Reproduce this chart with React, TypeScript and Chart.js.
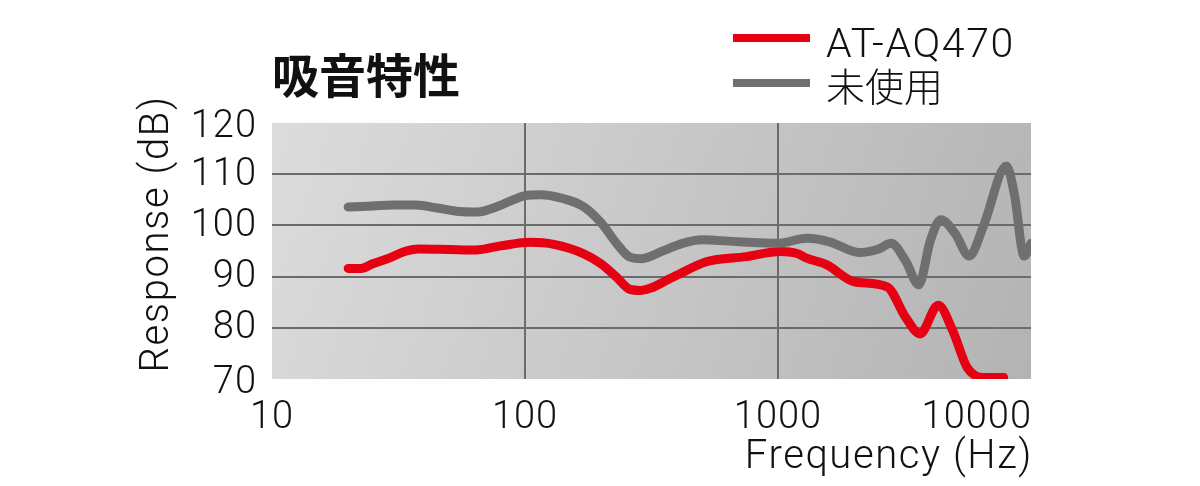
import React, { useRef, useEffect } from 'react';
import Chart from 'chart.js/auto';

// frequency (Hz) / response (dB)
const grayFreq = [20, 25, 30, 37, 45, 55, 65, 76, 90, 100, 115, 140, 170, 200, 230, 260, 290, 350, 420, 500, 700, 1000, 1300, 1600, 2100, 2500, 2800, 3200, 3600, 4000, 4400, 5000, 5700, 6500, 8000, 8600, 9400, 10000];
const grayDb = [103.6, 103.8, 104, 104, 103.4, 102.7, 102.6, 103.5, 105, 105.8, 106, 105.3, 103.7, 100.5, 96.5, 93.8, 93.5, 95, 96.5, 97.2, 96.8, 96.5, 97.5, 96.8, 94.7, 95.4, 96.5, 93, 88.4, 97, 101.1, 98.5, 94, 100, 111.6, 106, 94, 96.5];

const redFreq = [20, 22.5, 25, 29, 33, 38, 50, 64, 80, 105, 130, 170, 200, 230, 260, 285, 385, 520, 750, 1020, 1190, 1300, 1560, 2000, 2700, 3200, 3640, 4300, 4900, 5600, 6500, 7800];
const redDb = [91.6, 91.6, 92.5, 93.6, 94.8, 95.4, 95.3, 95.2, 96, 96.7, 96.3, 94.5, 92.5, 89.9, 87.5, 87.3, 89.9, 92.9, 93.9, 94.9, 94.5, 93.6, 92.3, 89, 88, 82, 78.8, 84.4, 79.5, 72.2, 70.3, 70.3];

const xTicks = [10, 100, 1000, 10000];
const yTicks = [70, 80, 90, 100, 110, 120];

const seriesNames = ['AT-AQ470', '未使用'];
const seriesColors = ['#e60012', '#6f6f6f'];

const LATIN = '"Roboto", "Noto Sans", sans-serif';
const CJK = '"Noto Sans CJK JP", sans-serif';

const textPlugin = {
    id: 'texts',
    beforeDraw(chart: any) {
        const { ctx, chartArea: a } = chart;
        const g = ctx.createLinearGradient(a.left, a.top, a.right, a.bottom);
        g.addColorStop(0, '#dcdcdc');
        g.addColorStop(1, '#b3b3b3');
        ctx.save();
        ctx.fillStyle = g;
        ctx.fillRect(a.left, a.top, a.right - a.left, a.bottom - a.top);
        ctx.restore();
    },
    afterDraw(chart: any) {
        const { ctx, chartArea: a } = chart;
        const xs = chart.scales.x;
        const ys = chart.scales.y;
        ctx.save();
        ctx.fillStyle = '#111';

        // title
        ctx.font = `bold 47px ${CJK}`;
        ctx.textAlign = 'left';
        ctx.textBaseline = 'middle';
        ctx.fillText('吸音特性', 272, 75);

        // legend
        seriesNames.forEach((name, i) => {
            const y = i === 0 ? 38 : 83;
            ctx.fillStyle = seriesColors[i];
            ctx.fillRect(733, y - 4, 77, 8);
            ctx.fillStyle = '#111';
            ctx.textAlign = 'left';
            if (i === 0) {
                ctx.font = `300 41px ${LATIN}`;
                ctx.letterSpacing = '1.6px';
                ctx.textBaseline = 'alphabetic';
                ctx.fillText(name, 826, 57);
                ctx.letterSpacing = '0px';
            } else {
                ctx.font = `300 39px ${CJK}`;
                ctx.textBaseline = 'middle';
                ctx.fillText(name, 826, 86);
            }
        });

        // y ticks
        ctx.font = `300 38px ${LATIN}`;
        ctx.letterSpacing = '1px';
        ctx.textAlign = 'right';
        ctx.textBaseline = 'middle';
        yTicks.forEach((v, i) => {
            let y = ys.getPixelForValue(v);
            if (i === 0 || i === yTicks.length - 1) y += 3;
            ctx.fillText(String(v), a.left - 15, y + 1);
        });

        // x ticks
        ctx.textBaseline = 'alphabetic';
        xTicks.forEach((v, i) => {
            const x = xs.getPixelForValue(v);
            const last = i === xTicks.length - 1;
            ctx.textAlign = last ? 'right' : 'center';
            ctx.fillText(String(v), last ? x + 1 : x, 428);
        });

        // axis titles
        ctx.font = `300 40px ${LATIN}`;
        ctx.letterSpacing = '1.6px';
        ctx.textAlign = 'right';
        ctx.fillText('Frequency (Hz)', a.right + 2, 468);

        ctx.translate(168, 234);
        ctx.rotate(-Math.PI / 2);
        ctx.textAlign = 'center';
        ctx.fillText('Response (dB)', 0, 0);
        ctx.restore();
    },
};

const App: React.FC = () => {
    const canvasRef = useRef<HTMLCanvasElement>(null);
    const chartRef = useRef<Chart | null>(null);

    useEffect(() => {
        document.body.style.margin = '0';
        if (chartRef.current) chartRef.current.destroy();
        if (!canvasRef.current) return;

        const gridColor = (edge: number[]) => (c: any) =>
            edge.includes(c.tick?.value) ? 'rgba(0,0,0,0)' : '#6b6b6b';

        chartRef.current = new Chart(canvasRef.current, {
            type: 'line',
            data: {
                datasets: [
                    {
                        label: seriesNames[1],
                        data: grayFreq.map((f, i) => ({ x: f, y: grayDb[i] })),
                        borderColor: seriesColors[1],
                        borderWidth: 9,
                        pointRadius: 0,
                        tension: 0.4,
                        cubicInterpolationMode: 'monotone',
                        borderCapStyle: 'round',
                        borderJoinStyle: 'round',
                        clip: { left: 10, top: 10, right: 0, bottom: 0 },
                    },
                    {
                        label: seriesNames[0],
                        data: redFreq.map((f, i) => ({ x: f, y: redDb[i] })),
                        borderColor: seriesColors[0],
                        borderWidth: 9,
                        pointRadius: 0,
                        tension: 0.4,
                        cubicInterpolationMode: 'monotone',
                        borderCapStyle: 'round',
                        borderJoinStyle: 'round',
                        clip: { left: 10, top: 10, right: 0, bottom: 0 },
                    },
                ],
            },
            options: {
                animation: false,
                responsive: true,
                maintainAspectRatio: false,
                layout: { padding: { left: 272, top: 123, right: 169, bottom: 107 } },
                plugins: { legend: { display: false }, tooltip: { enabled: false } },
                scales: {
                    x: {
                        type: 'logarithmic',
                        min: 10,
                        max: 10000,
                        afterBuildTicks: (s: any) => { s.ticks = xTicks.map(v => ({ value: v })); },
                        afterFit: (s: any) => { s.height = 0; },
                        ticks: { display: false },
                        border: { display: false },
                        grid: { color: gridColor([10, 10000]), lineWidth: 2, drawTicks: false },
                    },
                    y: {
                        min: 70,
                        max: 120,
                        afterBuildTicks: (s: any) => { s.ticks = yTicks.map(v => ({ value: v })); },
                        afterFit: (s: any) => { s.width = 0; },
                        ticks: { display: false },
                        border: { display: false },
                        grid: { color: gridColor([70, 120]), lineWidth: 2, drawTicks: false },
                    },
                },
            },
            plugins: [textPlugin],
        });

        return () => { if (chartRef.current) chartRef.current.destroy(); };
    }, []);

    return (
        <div style={{ position: 'relative', width: 1200, height: 486, background: '#fff' }}>
            <canvas ref={canvasRef}></canvas>
        </div>
    );
};

export default App;
